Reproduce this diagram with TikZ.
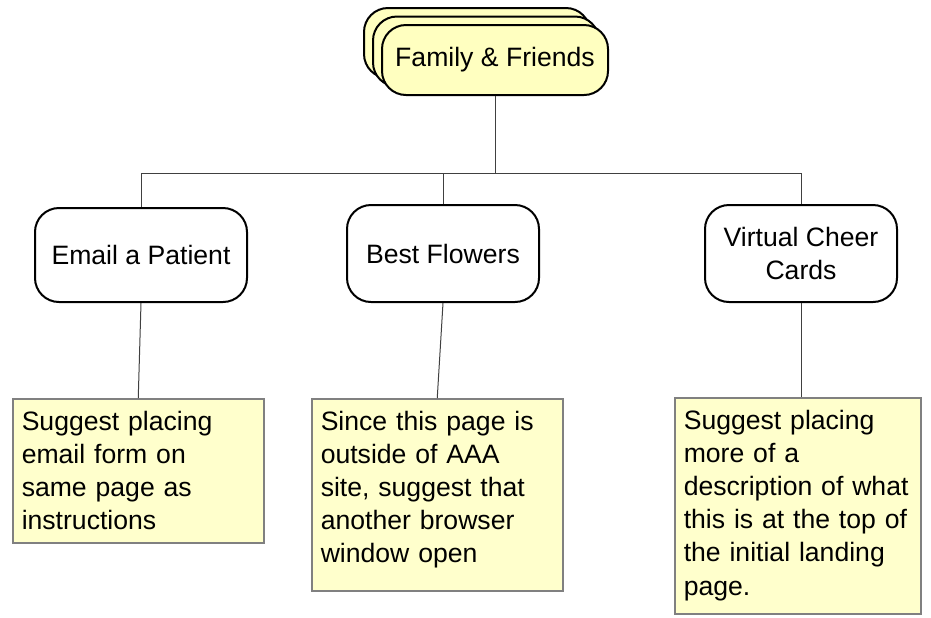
\documentclass[tikz,border=0pt]{standalone}
\usepackage{fontspec}
\setmainfont{Liberation Sans}
\usetikzlibrary{shadows}
\definecolor{famyellow}{HTML}{FFFFC0}
\definecolor{noteyellow}{HTML}{FFFFCC}
\definecolor{notegray}{HTML}{808080}
\definecolor{linkgray}{HTML}{404040}
\tikzset{topic/.style = {draw, line width=1pt, rounded corners=12pt, fill=famyellow,
                         minimum width=113pt, minimum height=35pt, inner sep=0pt},
         page/.style = {draw, line width=1pt, rounded corners=12pt, fill=white,
                        align=center, inner sep=0pt},
         note/.style = {draw=notegray, line width=0.75pt, fill=noteyellow, anchor=north west,
                        text width=116.5pt, inner xsep=4.5pt, inner ysep=6pt, align=left},
         link/.style = {draw=linkgray, line width=0.5pt}}

\begin{document}
\begin{tikzpicture}[x=0.5pt, y=-0.5pt, font=\fontsize{13.3}{16.6}\selectfont]
    \useasboundingbox (0,0) rectangle (931,617);

    \node[topic,
          copy shadow={fill=famyellow, draw=black, shadow xshift=-9pt, shadow yshift=8.5pt},
          copy shadow={fill=famyellow, draw=black, shadow xshift=-4.5pt, shadow yshift=4.25pt}]
          (fam) at (495,60) {Family \& Friends};

    \node[page, minimum width=106pt, minimum height=47pt] (email) at (141,255) {Email a Patient};
    \node[page, minimum width=96pt, minimum height=48.5pt] (best) at (443,253.5) {Best Flowers};
    \node[page, minimum width=96pt, minimum height=48.5pt] (cheer) at (801,253.5) {Virtual Cheer\\Cards};

    \node[note, text depth=50.5pt] (emailnote) at (12,398)
        {Suggest placing\\email form on\\same page as\\instructions};
    \node[note, text depth=74.5pt] (bestnote) at (311,398)
        {Since this page is\\outside of AAA\\site, suggest that\\another browser\\window open};
    \node[note, text depth=86.5pt, text width=114pt] (cheernote) at (674,397)
        {Suggest placing\\more of a\\description of what\\this is at the top of\\the initial landing\\page.};

    \coordinate (bus) at (0,173);
    \draw[link] (fam.south) -- (fam.south |- bus);
    \draw[link] (email.north) |- (cheer.north |- bus) -- (cheer.north);
    \draw[link] (best.north) -- (best.north |- bus);

    \draw[link] (email.south) -- (emailnote.north);
    \draw[link] (best.south) -- (bestnote.north);
    \draw[link] (cheer.south) -- (cheer.south |- cheernote.north);
  \end{tikzpicture}
\end{document}
